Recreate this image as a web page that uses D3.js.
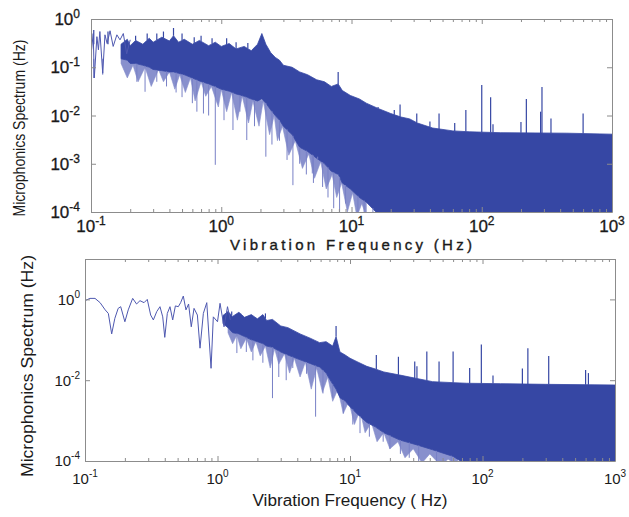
<!DOCTYPE html>
<html>
<head>
<meta charset="utf-8">
<script src="https://cdn.jsdelivr.net/npm/d3@7"></script>
<style>
  html, body { margin: 0; padding: 0; background: #fff; }
  svg { display: block; }
  text { font-family: "Liberation Sans", Arial, sans-serif; fill: #1a1a1a; }
</style>
</head>
<body>
<svg id="chart" width="629" height="517"></svg>
<script>
// shared axis ticks
var xTickVals = [0.1, 1, 10, 100, 1000];
var xTickExp = ["-1", "0", "1", "2", "3"];
var topYTickVals = [1e-4, 1e-3, 1e-2, 1e-1, 1];
var topYTickExp = ["-4", "-3", "-2", "-1", "0"];
var botYTickVals = [1e-4, 1e-2, 1];
var botYTickExp = ["-4", "-2", "0"];

// top panel: low-frequency trace (Hz, spectrum)
var topTraceF = [0.101, 0.104, 0.106, 0.111, 0.114, 0.117, 0.123, 0.128, 0.133, 0.14, 0.148, 0.158, 0.167, 0.177, 0.188, 0.2];
var topTraceV = [0.23, 0.5, 0.06, 0.43, 0.23, 0.55, 0.075, 0.47, 0.31, 0.57, 0.27, 0.47, 0.37, 0.5, 0.19, 0.37];

// top panel: dense band edges
var topBandF  = [0.17, 0.19, 0.2, 0.22, 0.25, 0.28, 0.3, 0.35, 0.4, 0.43, 0.47, 0.52, 0.6, 0.68, 0.8, 0.9, 1.0, 1.15, 1.3, 1.5, 1.7, 1.9, 2.05, 2.2, 2.4, 2.6, 2.8, 3.0, 3.5, 4.0, 4.6, 5.4, 6.2, 7.0, 7.9, 8.5, 9.8, 11.5, 13, 16, 20, 24, 28, 32, 42, 60, 80, 140, 450, 1000];
var topBandHi = [0.30, 0.38, 0.28, 0.36, 0.30, 0.40, 0.33, 0.42, 0.35, 0.45, 0.33, 0.38, 0.30, 0.36, 0.28, 0.33, 0.27, 0.31, 0.24, 0.27, 0.22, 0.30, 0.50, 0.30, 0.20, 0.16, 0.14, 0.11, 0.10, 0.08, 0.07, 0.055, 0.05, 0.04, 0.045, 0.033, 0.026, 0.022, 0.018, 0.014, 0.011, 0.0093, 0.0085, 0.007, 0.0055, 0.0048, 0.0046, 0.0044, 0.0043, 0.0041];
var topBandLo = [0.15, 0.14, 0.12, 0.12, 0.11, 0.10, 0.09, 0.085, 0.08, 0.08, 0.075, 0.07, 0.06, 0.052, 0.045, 0.04, 0.035, 0.032, 0.028, 0.025, 0.022, 0.020, 0.022, 0.018, 0.013, 0.010, 0.008, 0.006, 0.004, 0.0022, 0.0018, 0.0013, 0.001, 0.0007, 0.0006, 0.0004, 0.0003, 0.0002, 0.00016, 0.00009, 0.00008, 0.00008, 0.00008, 0.00008, 0.00008, 0.00008, 0.00008, 0.00008, 0.00008, 0.00008];

// top panel: ragged lighter fringe under the band
var topHazeF  = [0.17, 0.19, 0.21, 0.23, 0.26, 0.29, 0.33, 0.36, 0.4, 0.44, 0.48, 0.53, 0.58, 0.63, 0.7, 0.76, 0.84, 0.95, 1.0, 1.1, 1.2, 1.33, 1.45, 1.62, 1.75, 1.95, 2.1, 2.35, 2.55, 2.7, 2.95, 3.3, 3.7, 4.2, 4.7, 5.2, 5.8, 6.4, 7.1, 7.7, 8.4, 9.3, 10.2, 11, 12, 13];
var topHazeLo = [0.12, 0.06, 0.11, 0.05, 0.10, 0.04, 0.09, 0.05, 0.08, 0.035, 0.07, 0.03, 0.06, 0.02, 0.05, 0.025, 0.04, 0.015, 0.035, 0.012, 0.03, 0.008, 0.025, 0.007, 0.02, 0.006, 0.02, 0.004, 0.01, 0.003, 0.006, 0.0015, 0.003, 0.0008, 0.0016, 0.0005, 0.0011, 0.0003, 0.0006, 0.0002, 0.0004, 0.0001, 0.00025, 0.00008, 0.00015, 0.00008];

// top panel: peaks above the band
var topUpF = [0.105, 0.135, 0.22, 0.27, 0.32, 0.36, 0.43, 0.5, 0.62, 0.7, 0.85, 1.1, 1.3, 1.6, 7.9, 16, 21.3, 23.6, 31.7, 40, 47, 62, 75.5, 100, 117, 122, 200, 220, 283, 290, 340, 600];
var topUpV = [0.59, 0.55, 0.45, 0.5, 0.5, 0.55, 0.65, 0.5, 0.42, 0.45, 0.4, 0.4, 0.33, 0.32, 0.08, 0.015, 0.013, 0.017, 0.011, 0.0075, 0.011, 0.007, 0.013, 0.043, 0.024, 0.0066, 0.0073, 0.022, 0.012, 0.039, 0.0087, 0.011];

// top panel: dips below the band
var topDnF = [0.105, 0.123, 0.225, 0.26, 0.32, 0.38, 0.45, 0.5, 0.6, 0.65, 0.73, 0.8, 0.9, 1.05, 1.23, 1.39, 1.57, 1.8, 2.2, 2.45, 2.8, 3.2, 3.55, 4.0, 4.5, 5.0, 5.1, 5.5, 6.0, 6.6, 7.3, 8.1, 9, 11.2, 12.5, 14.6];
var topDnV = [0.06, 0.07, 0.05, 0.031, 0.05, 0.04, 0.03, 0.024, 0.018, 0.012, 0.011, 0.01, 0.00095, 0.008, 0.005, 0.012, 0.0031, 0.006, 0.0014, 0.0025, 0.003, 0.0012, 0.00036, 0.001, 0.0006, 0.00063, 0.0004, 0.0014, 0.00033, 0.0002, 0.00012, 0.00008, 0.00015, 0.00008, 0.00008, 0.00008];

// bottom panel: low-frequency trace
var botTraceF = [0.1, 0.109, 0.119, 0.13, 0.142, 0.15, 0.159, 0.168, 0.178, 0.186, 0.2, 0.212, 0.229, 0.245, 0.26, 0.279, 0.295, 0.313, 0.328, 0.348, 0.368, 0.386, 0.4, 0.418, 0.438, 0.459, 0.481, 0.506, 0.527, 0.552, 0.578, 0.605, 0.634, 0.665, 0.705, 0.738, 0.782, 0.83, 0.894, 0.93, 1.0, 1.045, 1.12, 1.19, 1.25];
var botTraceV = [0.93, 1.06, 1.06, 0.83, 0.55, 0.45, 0.14, 0.34, 0.6, 0.66, 0.28, 0.55, 1.06, 0.77, 0.93, 0.83, 1.0, 0.41, 0.31, 0.5, 0.66, 0.37, 0.115, 0.45, 0.66, 0.31, 0.69, 0.66, 0.83, 1.21, 0.55, 0.77, 0.21, 0.6, 0.41, 0.062, 0.45, 0.83, 0.0197, 0.37, 0.28, 0.8, 0.21, 0.66, 0.31];

// bottom panel: dense band edges
var botBandF  = [1.1, 1.2, 1.3, 1.45, 1.6, 1.8, 2.0, 2.2, 2.35, 2.6, 3.0, 3.4, 4.2, 5.0, 5.9, 6.6, 7.4, 7.85, 8.4, 9.2, 10, 11.5, 13.4, 15.5, 18, 23.8, 32, 42, 60, 76, 137, 300, 1000];
var botBandHi = [0.40, 0.5, 0.38, 0.48, 0.36, 0.42, 0.33, 0.42, 0.30, 0.32, 0.22, 0.2, 0.14, 0.11, 0.085, 0.09, 0.07, 0.12, 0.05, 0.042, 0.035, 0.028, 0.022, 0.019, 0.016, 0.0134, 0.011, 0.0092, 0.0087, 0.0084, 0.0082, 0.0079, 0.0076];
var botBandLo = [0.25, 0.2, 0.15, 0.14, 0.12, 0.1, 0.09, 0.08, 0.07, 0.065, 0.05, 0.042, 0.032, 0.026, 0.021, 0.015, 0.008, 0.006, 0.0037, 0.003, 0.0022, 0.0014, 0.0009, 0.0007, 0.0005, 0.00033, 0.00025, 0.00019, 0.00013, 0.00008, 0.00008, 0.00008, 0.00008];

// bottom panel: ragged lighter fringe
var botHazeF  = [1.2, 1.3, 1.4, 1.5, 1.65, 1.8, 1.95, 2.1, 2.3, 2.5, 2.7, 2.9, 3.2, 3.5, 3.8, 4.2, 4.6, 5.1, 5.6, 6.2, 6.8, 7.4, 8.1, 8.9, 9.8, 10.8, 11.9, 13, 14.5, 16, 18, 20, 23, 26, 30, 35, 40, 48, 55, 65];
var botHazeLo = [0.15, 0.08, 0.13, 0.06, 0.11, 0.05, 0.09, 0.04, 0.07, 0.02, 0.06, 0.025, 0.045, 0.015, 0.035, 0.012, 0.028, 0.006, 0.02, 0.005, 0.012, 0.003, 0.006, 0.0015, 0.003, 0.0008, 0.0018, 0.0005, 0.0009, 0.0003, 0.0005, 0.0002, 0.0003, 0.00012, 0.0002, 0.00009, 0.00015, 0.00008, 0.00011, 0.00008];

// bottom panel: peaks and dips
var botUpF = [1.28, 1.5, 2.3, 7.85, 15.8, 23.2, 30.8, 32, 38, 47, 60, 80, 98, 120, 200, 220, 316, 600, 630];
var botUpV = [0.5, 0.45, 0.45, 0.22, 0.042, 0.038, 0.029, 0.022, 0.051, 0.029, 0.051, 0.02, 0.077, 0.013, 0.0195, 0.062, 0.04, 0.018, 0.015];
var botDnF = [1.4, 1.65, 1.85, 2.2, 2.6, 2.9, 3.3, 3.7, 4.7, 5.5, 6.25, 7.4, 8.9, 10.5, 11.9, 14, 17.8, 20, 24, 28, 33, 45, 58, 85];
var botDnV = [0.047, 0.05, 0.031, 0.027, 0.0036, 0.012, 0.01, 0.02, 0.0144, 0.00125, 0.0047, 0.0037, 0.0015, 0.0008, 0.00049, 0.0004, 0.0003, 0.0002, 0.00015, 0.00012, 0.00008, 0.00009, 0.00009, 0.00008];

var sFill = "#3647a4";
var sHaze = "#8890cd";
var sLight = "#7880c6";
var sTrace = "#4e58b0";
var sAxis = "#8c8c8c";

var svg = d3.select("#chart");
svg.append("rect").attr("width", 629).attr("height", 517).attr("fill", "#fff");

function drawPanel(p) {
    var x = d3.scaleLog().domain([0.1, 1000]).range([p.left, p.right]);
    var y = d3.scaleLog().domain(p.yDomain).range([p.bottom, p.top]);
    var g = svg.append("g");

    g.append("clipPath").attr("id", p.id + "-clip").append("rect")
        .attr("x", p.left).attr("y", p.top)
        .attr("width", p.right - p.left).attr("height", p.bottom - p.top);
    var plot = g.append("g").attr("clip-path", `url(#${p.id}-clip)`);

    var hiAt = d3.scaleLog().domain(p.bandF).range(p.bandHi).clamp(true);
    var loAt = d3.scaleLog().domain(p.bandF).range(p.bandLo).clamp(true);

    // ragged fringe, then the dense band over it
    plot.append("path").datum(p.hazeF.map((f, i) => ({ f: f, lo: p.hazeLo[i] })))
        .attr("fill", sHaze).attr("stroke", sHaze).attr("stroke-width", 0.6)
        .attr("d", d3.area().x(d => x(d.f)).y0(d => y(d.lo)).y1(d => y(loAt(d.f))));

    var band = p.bandF.map((f, i) => ({ f: f, hi: p.bandHi[i], lo: p.bandLo[i] }));
    plot.append("path").datum(band)
        .attr("fill", sFill).attr("stroke", sFill).attr("stroke-width", 0.8)
        .attr("d", d3.area().x(d => x(d.f)).y0(d => y(d.lo)).y1(d => y(d.hi)));

    // dips
    plot.selectAll(".dn").data(p.dnF.map((f, i) => ({ f: f, v: p.dnV[i] })))
        .join("line")
        .attr("x1", d => x(d.f)).attr("x2", d => x(d.f))
        .attr("y1", d => y(loAt(d.f))).attr("y2", d => y(d.v))
        .attr("stroke", sLight).attr("stroke-width", 1);

    // peaks
    plot.selectAll(".up").data(p.upF.map((f, i) => ({ f: f, v: p.upV[i] })))
        .join("line")
        .attr("x1", d => x(d.f)).attr("x2", d => x(d.f))
        .attr("y1", d => y(hiAt(d.f))).attr("y2", d => y(d.v))
        .attr("stroke", sFill).attr("stroke-width", 1.2);

    // low-frequency trace
    plot.append("path").datum(p.traceF.map((f, i) => ({ f: f, v: p.traceV[i] })))
        .attr("fill", "none").attr("stroke", sTrace).attr("stroke-width", 1)
        .attr("d", d3.line().x(d => x(d.f)).y(d => y(d.v)));

    // axes, ticks pointing inward
    var minorX = x.ticks().filter(t => xTickVals.indexOf(t) < 0);
    function tidy(sel) {
        sel.select(".domain").attr("stroke", sAxis);
        sel.selectAll(".tick line").attr("stroke", sAxis);
        sel.selectAll(".tick text").remove();
    }
    function noDomain(sel) { sel.select(".domain").remove(); }

    g.append("g").attr("transform", `translate(0,${p.bottom})`)
        .call(d3.axisBottom(x).tickValues(xTickVals).tickSize(-5).tickSizeOuter(0)).call(tidy);
    g.append("g").attr("transform", `translate(0,${p.bottom})`)
        .call(d3.axisBottom(x).tickValues(minorX).tickSize(-3)).call(tidy).call(noDomain);
    g.append("g").attr("transform", `translate(0,${p.top})`)
        .call(d3.axisTop(x).tickValues(xTickVals).tickSize(-5).tickSizeOuter(0)).call(tidy);
    g.append("g").attr("transform", `translate(0,${p.top})`)
        .call(d3.axisTop(x).tickValues(minorX).tickSize(-3)).call(tidy).call(noDomain);
    g.append("g").attr("transform", `translate(${p.left},0)`)
        .call(d3.axisLeft(y).tickValues(p.yTicks).tickSize(-5).tickSizeOuter(0)).call(tidy);
    g.append("g").attr("transform", `translate(${p.right},0)`)
        .call(d3.axisRight(y).tickValues(p.yTicks).tickSize(-5).tickSizeOuter(0)).call(tidy);

    // tick labels 10^n
    function power(sel, exps) {
        sel.each(function(d, i) {
            var t = d3.select(this);
            t.append("tspan").text("10");
            t.append("tspan").attr("dy", -p.supRaise).style("font-size", p.supFont + "px").text(exps[i]);
        });
    }
    g.selectAll(".xl").data(xTickVals).join("text")
        .attr("x", d => x(d)).attr("y", p.xLabelY)
        .attr("text-anchor", "middle").style("font-size", p.tickFont + "px")
        .style("stroke", "#1a1a1a").style("stroke-width", p.tickStroke)
        .call(power, xTickExp);
    g.selectAll(".yl").data(p.yTicks).join("text")
        .attr("x", p.yLabelX).attr("y", d => y(d) + p.tickFont * 0.36)
        .attr("text-anchor", "end").style("font-size", p.tickFont + "px")
        .style("stroke", "#1a1a1a").style("stroke-width", p.tickStroke)
        .call(power, p.yExp);
}

drawPanel({
    id: "top", left: 91, right: 612, top: 19, bottom: 212,
    yDomain: [1e-4, 1], yTicks: topYTickVals, yExp: topYTickExp,
    xLabelY: 232, yLabelX: 80, tickFont: 17, supFont: 12, supRaise: 7, tickStroke: 0.3,
    bandF: topBandF, bandHi: topBandHi, bandLo: topBandLo,
    hazeF: topHazeF, hazeLo: topHazeLo,
    upF: topUpF, upV: topUpV, dnF: topDnF, dnV: topDnV,
    traceF: topTraceF, traceV: topTraceV
});

drawPanel({
    id: "bot", left: 85, right: 615, top: 259, bottom: 461,
    yDomain: [1e-4, 10], yTicks: botYTickVals, yExp: botYTickExp,
    xLabelY: 484, yLabelX: 80, tickFont: 15, supFont: 10, supRaise: 7, tickStroke: 0,
    bandF: botBandF, bandHi: botBandHi, bandLo: botBandLo,
    hazeF: botHazeF, hazeLo: botHazeLo,
    upF: botUpF, upV: botUpV, dnF: botDnF, dnV: botDnV,
    traceF: botTraceF, traceV: botTraceV
});

// axis titles
svg.append("text")
    .attr("transform", "translate(25,128) rotate(-90)")
    .attr("text-anchor", "middle")
    .attr("textLength", 177).attr("lengthAdjust", "spacingAndGlyphs")
    .style("font-family", "'Liberation Sans Narrow', 'Liberation Sans', Arial, sans-serif")
    .style("font-size", "16px")
    .text("Microphonics Spectrum (Hz)");

svg.append("text")
    .attr("x", 351).attr("y", 250)
    .attr("text-anchor", "middle")
    .attr("textLength", 242).attr("lengthAdjust", "spacing")
    .style("font-size", "15px")
    .style("stroke", "#1a1a1a").style("stroke-width", 0.35)
    .text("Vibration Frequency (Hz)");

svg.append("text")
    .attr("transform", "translate(33,366) rotate(-90)")
    .attr("text-anchor", "middle")
    .attr("textLength", 222).attr("lengthAdjust", "spacingAndGlyphs")
    .style("font-size", "17px")
    .text("Microphonics Spectrum (Hz)");

svg.append("text")
    .attr("x", 350).attr("y", 506)
    .attr("text-anchor", "middle")
    .attr("textLength", 195).attr("lengthAdjust", "spacingAndGlyphs")
    .style("font-size", "16px")
    .text("Vibration Frequency ( Hz)");
</script>
</body>
</html>
